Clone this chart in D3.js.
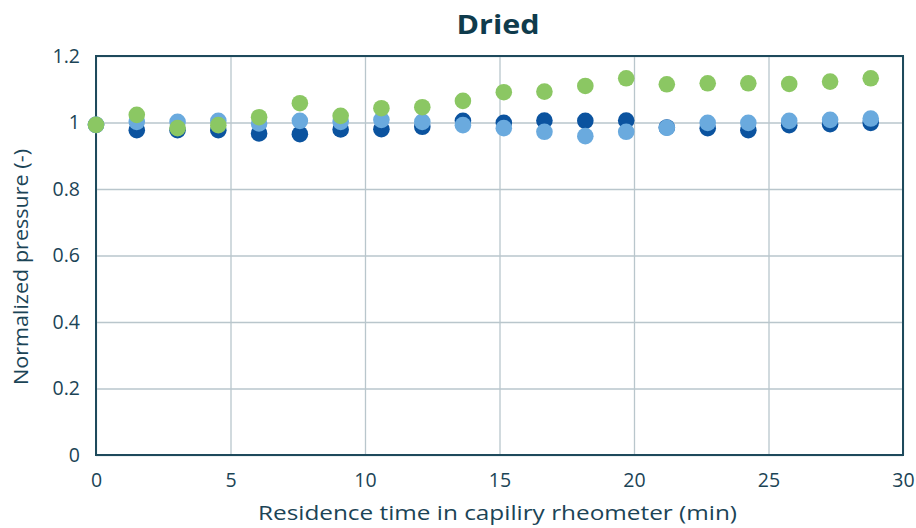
<!DOCTYPE html>
<html><head><meta charset="utf-8">
<script src="https://cdn.jsdelivr.net/npm/d3@7"></script>
<style>body{margin:0;background:#fff}svg{display:block}text{font-family:"Open Sans","Noto Sans",sans-serif}</style>
</head><body>
<svg id="c" width="916" height="528"></svg>
<script>
const title = "Dried";
const xLabel = "Residence time in capiliry rheometer (min)";
const yLabel = "Normalized pressure (-)";
const times = [0,1.516,3.032,4.547,6.063,7.579,9.095,10.61,12.13,13.64,15.16,16.67,18.19,19.71,21.22,22.74,24.25,25.77,27.29,28.80];
const darkBlue  = [0.993,0.977,0.977,0.977,0.967,0.965,0.979,0.980,0.987,1.005,0.999,1.006,1.005,1.006,0.985,0.983,0.977,0.992,0.995,0.999];
const lightBlue = [0.993,1.002,1.002,1.005,0.997,1.005,1.002,1.008,1.002,0.992,0.983,0.972,0.959,0.972,0.984,0.999,0.999,1.005,1.008,1.012];
const green     = [0.993,1.023,0.983,0.992,1.016,1.058,1.020,1.043,1.046,1.065,1.091,1.093,1.110,1.133,1.115,1.118,1.118,1.116,1.123,1.133];
const xTicks = [0,5,10,15,20,25,30];
const yTicks = [0,0.2,0.4,0.6,0.8,1,1.2];
const seriesColors = ["#0b539f","#6aaade","#8bc763"];

const svg = d3.select("#c");
const m = {l:96,r:13,t:56,b:73};
const W = 916, H = 528;
const x = d3.scaleLinear().domain([0,30]).range([m.l, W-m.r]);
const y = d3.scaleLinear().domain([0,1.2]).range([H-m.b, m.t]);
const ink = "#1b4456";
const wide = "'DejaVu Sans', 'Open Sans', sans-serif";

// gridlines
svg.append("g").attr("transform",`translate(0,${H-m.b})`)
  .call(d3.axisBottom(x).tickValues(xTicks).tickSize(-(H-m.b-m.t)).tickFormat(""))
  .call(g=>{g.select(".domain").remove();g.selectAll("line").attr("stroke","#b9c6cc").attr("stroke-width",1.3);});
svg.append("g").attr("transform",`translate(${m.l},0)`)
  .call(d3.axisLeft(y).tickValues(yTicks).tickSize(-(W-m.l-m.r)).tickFormat(""))
  .call(g=>{g.select(".domain").remove();g.selectAll("line").attr("stroke","#b9c6cc").attr("stroke-width",1.3);});

// tick labels
svg.append("g").attr("transform",`translate(0,${H-m.b})`)
  .call(d3.axisBottom(x).tickValues(xTicks).tickSize(0).tickPadding(18).tickFormat(d3.format("d")))
  .call(g=>{g.select(".domain").remove();g.selectAll("text").attr("fill",ink).attr("font-size",19.5).attr("font-family",wide);});
svg.append("g").attr("transform",`translate(${m.l},0)`)
  .call(d3.axisLeft(y).tickValues(yTicks).tickSize(0).tickPadding(16).tickFormat(d=>d3.format("~g")(d)))
  .call(g=>{g.select(".domain").remove();g.selectAll("text").attr("fill",ink).attr("font-size",19.5).attr("font-family",wide);});

// frame
svg.append("rect").attr("x",m.l).attr("y",m.t).attr("width",W-m.l-m.r).attr("height",H-m.b-m.t)
  .attr("fill","none").attr("stroke","#1e4a5c").attr("stroke-width",2);

// points
const series = [darkBlue, lightBlue, green];
series.forEach((vals,i)=>{
  svg.append("g").selectAll("circle").data(vals).join("circle")
    .attr("cx",(d,j)=>x(times[j])).attr("cy",d=>y(d)).attr("r",8.3)
    .attr("fill",seriesColors[i]);
});

// titles
svg.append("text").attr("x",498).attr("y",34).attr("text-anchor","middle")
  .attr("font-size",27).attr("font-weight","bold").attr("fill","#0f3b4c")
  .attr("textLength",83).attr("lengthAdjust","spacingAndGlyphs").text(title);
svg.append("text").attr("x",497.5).attr("y",520).attr("text-anchor","middle")
  .attr("font-size",20).attr("font-family",wide).attr("fill",ink)
  .attr("textLength",479).attr("lengthAdjust","spacingAndGlyphs").text(xLabel);
svg.append("text").attr("transform",`translate(28,267) rotate(-90)`).attr("text-anchor","middle")
  .attr("font-size",20).attr("font-family",wide).attr("fill",ink)
  .attr("textLength",236).attr("lengthAdjust","spacingAndGlyphs").text(yLabel);
</script>
</body></html>
